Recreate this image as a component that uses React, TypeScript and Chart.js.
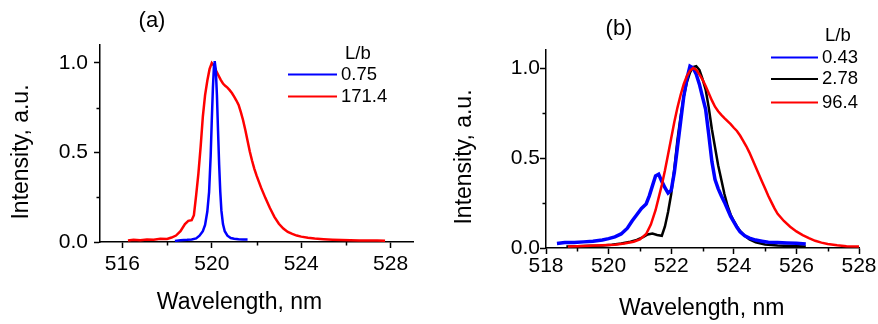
import React, { useEffect, useRef } from "react";
import { Chart, registerables } from "chart.js";

Chart.register(...registerables);

const FONT = "'Liberation Sans', Arial, sans-serif";

// ---------- Panel (a) ----------
const aXTicks = [516, 520, 524, 528];
const aXMinor = [518, 522, 526];

const aBlueX = [518.35, 518.6, 518.9, 519.1, 519.3, 519.45, 519.6, 519.7, 519.8, 519.88, 519.95, 520.0, 520.05, 520.1, 520.13, 520.18, 520.23, 520.28, 520.33, 520.38, 520.43, 520.5, 520.58, 520.7, 520.85, 521.0, 521.2, 521.4, 521.6];
const aBlueY = [0.006, 0.010, 0.012, 0.014, 0.020, 0.035, 0.060, 0.095, 0.170, 0.280, 0.480, 0.680, 0.860, 0.990, 1.010, 0.960, 0.820, 0.620, 0.430, 0.280, 0.175, 0.100, 0.060, 0.035, 0.022, 0.018, 0.015, 0.014, 0.014];

const aRedX = [516.25, 516.5, 516.8, 517.1, 517.4, 517.7, 518.0, 518.2, 518.4, 518.6, 518.8, 518.95, 519.1, 519.2, 519.3, 519.4, 519.5, 519.6, 519.7, 519.8, 519.9, 520.0, 520.1, 520.2, 520.3, 520.4, 520.5, 520.6, 520.7, 520.8, 520.9, 521.0, 521.1, 521.2, 521.3, 521.4, 521.5, 521.6, 521.7, 521.8, 521.9, 522.0, 522.2, 522.4, 522.6, 522.8, 523.0, 523.2, 523.4, 523.6, 523.8, 524.0, 524.3, 524.6, 525.0, 525.4, 525.8, 526.2, 526.6, 527.0, 527.4, 527.75];
const aRedY = [0.008, 0.012, 0.010, 0.014, 0.013, 0.018, 0.017, 0.025, 0.036, 0.060, 0.100, 0.118, 0.122, 0.150, 0.260, 0.380, 0.530, 0.700, 0.820, 0.900, 0.965, 1.000, 0.985, 0.955, 0.930, 0.905, 0.885, 0.872, 0.862, 0.848, 0.832, 0.812, 0.790, 0.765, 0.725, 0.680, 0.625, 0.565, 0.505, 0.455, 0.410, 0.372, 0.305, 0.245, 0.190, 0.140, 0.102, 0.075, 0.056, 0.045, 0.036, 0.030, 0.024, 0.019, 0.016, 0.013, 0.011, 0.010, 0.009, 0.009, 0.008, 0.007];

// ---------- Panel (b) ----------
const bXTicks = [518, 520, 522, 524, 526, 528];
const bXMinor = [519, 521, 523, 525, 527];

const bBlueX = [518.35, 518.6, 518.9, 519.2, 519.5, 519.8, 520.0, 520.2, 520.4, 520.6, 520.75, 520.9, 521.05, 521.2, 521.3, 521.4, 521.5, 521.6, 521.7, 521.8, 521.9, 522.0, 522.1, 522.2, 522.3, 522.4, 522.5, 522.6, 522.7, 522.8, 522.9, 523.0, 523.1, 523.2, 523.3, 523.4, 523.5, 523.6, 523.7, 523.8, 523.9, 524.0, 524.1, 524.2, 524.35, 524.5, 524.7, 524.9, 525.1, 525.4, 525.7, 526.0, 526.3];
const bBlueY = [0.025, 0.030, 0.030, 0.034, 0.038, 0.045, 0.052, 0.062, 0.078, 0.110, 0.150, 0.185, 0.220, 0.245, 0.290, 0.345, 0.400, 0.410, 0.370, 0.335, 0.305, 0.320, 0.420, 0.560, 0.700, 0.840, 0.940, 1.010, 1.000, 0.965, 0.910, 0.840, 0.770, 0.630, 0.480, 0.380, 0.330, 0.290, 0.255, 0.215, 0.175, 0.145, 0.115, 0.090, 0.068, 0.055, 0.044, 0.038, 0.032, 0.030, 0.028, 0.026, 0.022];

const bBlackX = [518.65, 519.0, 519.4, 519.8, 520.1, 520.4, 520.7, 520.9, 521.1, 521.25, 521.4, 521.55, 521.7, 521.8, 521.9, 522.0, 522.1, 522.2, 522.3, 522.4, 522.5, 522.6, 522.7, 522.8, 522.9, 523.0, 523.1, 523.2, 523.3, 523.4, 523.5, 523.6, 523.7, 523.8, 523.9, 524.0, 524.1, 524.2, 524.35, 524.5, 524.7, 525.0, 525.4, 525.8, 526.3];
const bBlackY = [0.008, 0.010, 0.012, 0.014, 0.018, 0.025, 0.035, 0.045, 0.060, 0.075, 0.080, 0.072, 0.068, 0.120, 0.200, 0.300, 0.440, 0.600, 0.730, 0.840, 0.920, 0.975, 1.005, 1.010, 0.990, 0.940, 0.880, 0.780, 0.660, 0.560, 0.460, 0.380, 0.300, 0.235, 0.185, 0.150, 0.120, 0.095, 0.068, 0.048, 0.032, 0.020, 0.014, 0.011, 0.009];

const bRedX = [518.7, 519.0, 519.4, 519.8, 520.2, 520.5, 520.8, 521.0, 521.2, 521.35, 521.5, 521.6, 521.7, 521.8, 521.9, 522.0, 522.1, 522.2, 522.3, 522.4, 522.5, 522.6, 522.7, 522.8, 522.9, 523.0, 523.1, 523.2, 523.3, 523.4, 523.5, 523.6, 523.7, 523.8, 523.9, 524.0, 524.1, 524.2, 524.3, 524.4, 524.5, 524.6, 524.7, 524.8, 524.9, 525.0, 525.1, 525.2, 525.3, 525.4, 525.6, 525.8, 526.0, 526.2, 526.4, 526.6, 526.8, 527.0, 527.3, 527.6, 528.0];
const bRedY = [0.008, 0.010, 0.012, 0.015, 0.018, 0.025, 0.035, 0.048, 0.078, 0.130, 0.210, 0.280, 0.350, 0.430, 0.520, 0.610, 0.700, 0.780, 0.850, 0.910, 0.955, 0.985, 1.000, 0.990, 0.965, 0.935, 0.900, 0.860, 0.820, 0.785, 0.760, 0.740, 0.722, 0.705, 0.688, 0.668, 0.650, 0.625, 0.595, 0.565, 0.530, 0.490, 0.450, 0.410, 0.370, 0.330, 0.290, 0.255, 0.220, 0.190, 0.150, 0.118, 0.092, 0.072, 0.055, 0.040, 0.030, 0.022, 0.015, 0.010, 0.008];

// shared y axis
const yTicks = [0, 0.5, 1.0];
const yMinor = [0.25, 0.75];

type Series = { label: string; color: string; xs: number[]; ys: number[]; order: number; width: number };

interface Panel {
  w: number;
  h: number;
  xMin: number;
  xMax: number;
  yMin: number;
  yMax: number;
  xTicks: number[];
  xMinor: number[];
  series: Series[];
  area: { left: number; top: number; right: number; bottom: number };
  xLabelPad: number;
  yLabelPad: number;
  tag: { text: string; x: number; y: number };
  xTitle: { x: number; y: number };
  yTitle: { x: number; y: number };
  legend: { headX: number; headY: number; x0: number; x1: number; tx: number; ys: number[] };
}

const panelA: Panel = {
  w: 440,
  h: 324,
  xMin: 515,
  xMax: 529,
  yMin: 0,
  yMax: 1.1,
  xTicks: aXTicks,
  xMinor: aXMinor,
  series: [
    { label: "0.75", color: "#0000ff", xs: aBlueX, ys: aBlueY, order: 0, width: 2.5 },
    { label: "171.4", color: "#ff0000", xs: aRedX, ys: aRedY, order: 1, width: 2.5 },
  ],
  area: { left: 100, top: 45, right: 413, bottom: 242 },
  xLabelPad: 4,
  yLabelPad: 6,
  tag: { text: "(a)", x: 152, y: 21 },
  xTitle: { x: 239.5, y: 302.5 },
  yTitle: { x: 22, y: 152 },
  legend: { headX: 345, headY: 54, x0: 288, x1: 337, tx: 341, ys: [74.5, 96.5] },
};

const panelB: Panel = {
  w: 438,
  h: 324,
  xMin: 518,
  xMax: 528,
  yMin: 0,
  yMax: 1.1,
  xTicks: bXTicks,
  xMinor: bXMinor,
  series: [
    { label: "0.43", color: "#0000ff", xs: bBlueX, ys: bBlueY, order: 1, width: 3.5 },
    { label: "2.78", color: "#000000", xs: bBlackX, ys: bBlackY, order: 2, width: 2.5 },
    { label: "96.4", color: "#ff0000", xs: bRedX, ys: bRedY, order: 0, width: 2.5 },
  ],
  area: { left: 106, top: 50, right: 419, bottom: 248 },
  xLabelPad: 0,
  yLabelPad: 0,
  tag: { text: "(b)", x: 179, y: 28.5 },
  xTitle: { x: 261.7, y: 309 },
  yTitle: { x: 25, y: 157 },
  legend: { headX: 385, headY: 36, x0: 331, x1: 378, tx: 382, ys: [57.5, 79, 102.5] },
};

function makeDecor(p: Panel) {
  return {
    id: "decor",
    afterDraw(chart: any) {
      const ctx: CanvasRenderingContext2D = chart.ctx;
      const xs = chart.scales.x;
      const ys = chart.scales.y;
      const ca = chart.chartArea;
      ctx.save();
      // minor ticks
      ctx.strokeStyle = "#000";
      ctx.lineWidth = 1.5;
      ctx.beginPath();
      p.xMinor.forEach((v) => {
        const px = Math.round(xs.getPixelForValue(v)) + 0.5;
        ctx.moveTo(px, ca.bottom);
        ctx.lineTo(px, ca.bottom + 3.5);
      });
      yMinor.forEach((v) => {
        const py = Math.round(ys.getPixelForValue(v)) + 0.5;
        ctx.moveTo(ca.left - 3.5, py);
        ctx.lineTo(ca.left, py);
      });
      ctx.stroke();

      ctx.fillStyle = "#000";
      ctx.textBaseline = "middle";
      // panel tag
      ctx.font = `22px ${FONT}`;
      ctx.textAlign = "center";
      ctx.fillText(p.tag.text, p.tag.x, p.tag.y);
      // axis titles
      ctx.font = `23px ${FONT}`;
      ctx.fillText("Wavelength, nm", p.xTitle.x, p.xTitle.y);
      ctx.save();
      ctx.translate(p.yTitle.x, p.yTitle.y);
      ctx.rotate(-Math.PI / 2);
      ctx.fillText("Intensity, a.u.", 0, 0);
      ctx.restore();

      // legend
      ctx.font = `18.5px ${FONT}`;
      ctx.textAlign = "left";
      ctx.fillText("L/b", p.legend.headX, p.legend.headY);
      chart.data.datasets.forEach((ds: any, i: number) => {
        const y = p.legend.ys[i];
        ctx.strokeStyle = ds.borderColor;
        ctx.lineWidth = 2;
        ctx.beginPath();
        ctx.moveTo(p.legend.x0, y);
        ctx.lineTo(p.legend.x1, y);
        ctx.stroke();
        ctx.fillStyle = "#000";
        ctx.fillText(ds.label, p.legend.tx, y);
      });
      ctx.restore();
    },
  };
}

function buildConfig(p: Panel): any {
  return {
    type: "line",
    data: {
      datasets: p.series.map((s) => ({
        label: s.label,
        data: s.xs.map((x, i) => ({ x, y: s.ys[i] })),
        borderColor: s.color,
        backgroundColor: s.color,
        borderWidth: s.width,
        pointRadius: 0,
        tension: 0,
        fill: false,
        order: s.order,
      })),
    },
    options: {
      responsive: false,
      animation: false,
      devicePixelRatio: 1,
      events: [],
      layout: { padding: { left: 0, top: p.area.top, right: p.w - p.area.right, bottom: 0 } },
      plugins: { legend: { display: false }, tooltip: { enabled: false }, title: { display: false } },
      scales: {
        x: {
          type: "linear",
          position: "bottom",
          min: p.xMin,
          max: p.xMax,
          afterBuildTicks: (s: any) => {
            s.ticks = p.xTicks.map((v) => ({ value: v }));
          },
          afterFit: (s: any) => {
            s.height = p.h - p.area.bottom;
            s.paddingLeft = 0;
            s.paddingRight = 0;
          },
          grid: { drawOnChartArea: false, drawTicks: true, tickLength: 6, tickWidth: 1.5, tickColor: "#000" },
          border: { display: true, color: "#000", width: 1.5 },
          ticks: {
            color: "#000",
            font: { family: FONT, size: 21 },
            padding: p.xLabelPad,
            maxRotation: 0,
            autoSkip: false,
            callback: (v: any) => String(v),
          },
        },
        y: {
          type: "linear",
          position: "left",
          min: p.yMin,
          max: p.yMax,
          afterBuildTicks: (s: any) => {
            s.ticks = yTicks.map((v) => ({ value: v }));
          },
          afterFit: (s: any) => {
            s.width = p.area.left;
            s.paddingTop = 0;
            s.paddingBottom = 0;
          },
          grid: { drawOnChartArea: false, drawTicks: true, tickLength: 6, tickWidth: 1.5, tickColor: "#000" },
          border: { display: true, color: "#000", width: 1.5 },
          ticks: {
            color: "#000",
            font: { family: FONT, size: 21 },
            padding: p.yLabelPad,
            autoSkip: false,
            callback: (v: any) => Number(v).toFixed(1),
          },
        },
      },
    },
    plugins: [makeDecor(p)],
  };
}

function PanelChart({ panel, left }: { panel: Panel; left: number }) {
  const ref = useRef<HTMLCanvasElement | null>(null);
  useEffect(() => {
    if (!ref.current) return;
    const chart = new Chart(ref.current, buildConfig(panel));
    return () => chart.destroy();
  }, [panel]);
  return (
    <canvas
      ref={ref}
      width={panel.w}
      height={panel.h}
      style={{ position: "absolute", left, top: 0, width: panel.w, height: panel.h }}
    />
  );
}

export default function App() {
  return (
    <div style={{ position: "fixed", left: 0, top: 0, width: 878, height: 324, background: "#fff" }}>
      <PanelChart panel={panelA} left={0} />
      <PanelChart panel={panelB} left={440} />
    </div>
  );
}
